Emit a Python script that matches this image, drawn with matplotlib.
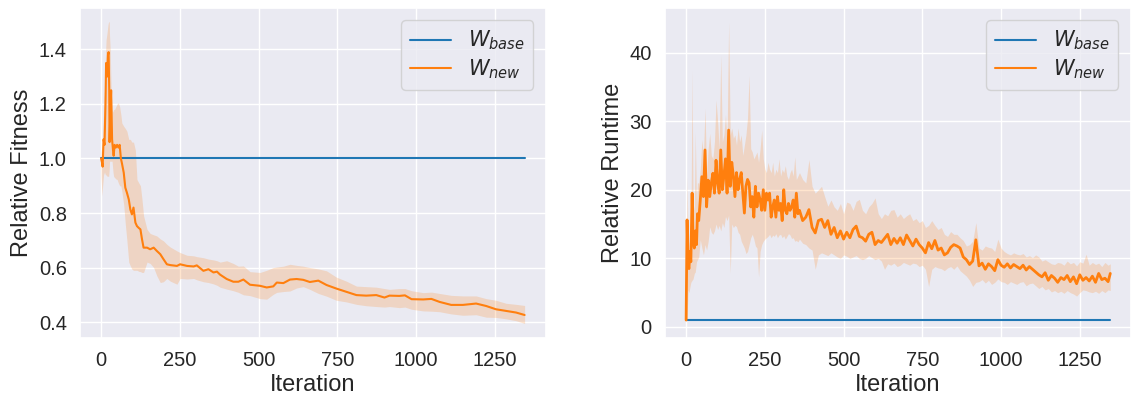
import numpy as np
import matplotlib
matplotlib.use("Agg")
import matplotlib.pyplot as plt
import seaborn as sns

# iteration grid + values (left: relative fitness)
fit_iter = [0, 3, 5, 8, 11, 14, 16, 19, 22, 24, 26, 27, 29, 32, 35, 38, 40, 43, 47, 51,
            55, 59, 63, 66, 72, 77, 82, 88, 93, 98, 103, 109, 114, 120, 125, 130, 135,
            146, 156, 167, 177, 188, 198, 209, 220, 241, 251, 273, 294, 304, 325, 341,
            357, 368, 378, 399, 420, 436, 452, 473, 505, 526, 547, 558, 579, 600, 621,
            642, 663, 690, 716, 747, 779, 811, 842, 874, 900, 916, 947, 965, 986, 1023,
            1049, 1075, 1112, 1149, 1191, 1223, 1254, 1286, 1318, 1345]
fit_mean = [1.0, 0.985, 0.97, 1.07, 1.05, 1.2, 1.35, 1.30, 1.38, 1.39, 1.25, 1.06, 1.15,
            1.25, 1.07, 1.03, 1.01, 1.05, 1.04, 1.05, 1.04, 1.05, 1.0, 0.984, 0.948, 0.893,
            0.875, 0.85, 0.813, 0.795, 0.82, 0.765, 0.752, 0.745, 0.74, 0.704, 0.673,
            0.673, 0.667, 0.673, 0.661, 0.649, 0.631, 0.612, 0.609, 0.606, 0.612, 0.606,
            0.604, 0.608, 0.588, 0.594, 0.582, 0.585, 0.574, 0.558, 0.548, 0.548, 0.556,
            0.537, 0.533, 0.527, 0.531, 0.545, 0.543, 0.556, 0.558, 0.555, 0.547, 0.552,
            0.536, 0.523, 0.511, 0.499, 0.497, 0.499, 0.490, 0.497, 0.496, 0.498, 0.484,
            0.483, 0.485, 0.474, 0.463, 0.463, 0.468, 0.459, 0.447, 0.441, 0.435, 0.426]
fit_high = [1.02, 1.05, 1.08, 1.167, 1.25, 1.38, 1.435, 1.46, 1.49, 1.502, 1.50, 1.45,
            1.40, 1.25, 1.18, 1.17, 1.18, 1.18, 1.19, 1.20, 1.204, 1.19, 1.16, 1.13,
            1.118, 1.11, 1.10, 1.07, 1.07, 1.06, 1.06, 1.03, 0.923, 0.91, 0.90, 0.85, 0.79,
            0.74, 0.725, 0.72, 0.716, 0.705, 0.698, 0.685, 0.675, 0.661, 0.655, 0.645,
            0.643, 0.64, 0.636, 0.631, 0.628, 0.625, 0.62, 0.625, 0.615, 0.605, 0.606,
            0.585, 0.582, 0.59, 0.60, 0.602, 0.605, 0.612, 0.608, 0.605, 0.600, 0.595,
            0.588, 0.565, 0.55, 0.532, 0.53, 0.528, 0.523, 0.52, 0.523, 0.523, 0.515,
            0.508, 0.51, 0.505, 0.498, 0.496, 0.496, 0.486, 0.48, 0.469, 0.465, 0.461]
fit_low = [0.935, 0.862, 0.90, 0.94, 0.95, 0.94, 0.94, 0.935, 0.935, 0.934, 0.96, 0.99,
           0.99, 0.99, 0.99, 0.95, 0.934, 0.93, 0.925, 0.923, 0.91, 0.90, 0.899, 0.88,
           0.83, 0.76, 0.70, 0.62, 0.606, 0.594, 0.59, 0.59, 0.59, 0.586, 0.585, 0.582,
           0.582, 0.62, 0.615, 0.60, 0.57, 0.545, 0.548, 0.56, 0.55, 0.539, 0.56, 0.558,
           0.56, 0.555, 0.548, 0.545, 0.54, 0.535, 0.528, 0.521, 0.515, 0.509, 0.50,
           0.497, 0.486, 0.484, 0.502, 0.509, 0.512, 0.514, 0.525, 0.53, 0.52, 0.505,
           0.495, 0.48, 0.474, 0.465, 0.46, 0.457, 0.455, 0.457, 0.453, 0.455, 0.447,
           0.441, 0.44, 0.438, 0.43, 0.425, 0.427, 0.418, 0.417, 0.412, 0.405, 0.395]

# right: relative runtime
rt_iter = [0, 3, 6, 9, 12, 15, 19, 22, 26, 29, 33, 36, 40, 45, 50, 55, 60, 65, 70, 75,
           80, 85, 90, 95, 100, 105, 110, 115, 120, 125, 130, 135, 140, 145, 150, 155,
           160, 165, 170, 175, 180, 185, 190, 195, 200, 205, 210, 215, 220, 225, 230,
           235, 240, 245, 250, 255, 260, 265, 270, 275, 280, 285, 290, 295, 300, 305,
           310, 315, 320, 325, 330, 335, 340, 345, 350, 355, 360, 370, 380, 390, 400,
           410, 420, 430, 440, 450, 460, 470, 480, 490, 500, 510, 520, 530, 540, 550,
           560, 570, 580, 590, 600, 610, 620, 630, 640, 650, 660, 670, 680, 690, 700,
           710, 720, 730, 740, 750, 760, 770, 780, 790, 800, 810, 820, 830, 840, 850,
           860, 870, 880, 890, 900, 910, 920, 930, 940, 950, 960, 970, 980, 990, 1000,
           1010, 1020, 1030, 1040, 1050, 1060, 1070, 1080, 1090, 1100, 1110, 1120, 1130,
           1140, 1150, 1160, 1170, 1180, 1190, 1200, 1210, 1220, 1230, 1240, 1250, 1260,
           1270, 1280, 1290, 1300, 1310, 1320, 1330, 1340, 1347]
rt_mean = [1.0, 15.6, 9.0, 8.5, 11.0, 9.5, 19.5, 12.5, 11.5, 14.0, 12.0, 16.5, 15.5,
           18.5, 21.9, 19.0, 25.8, 17.5, 21.4, 19.0, 21.0, 22.4, 19.5, 24.3, 21.0, 19.5,
           25.8, 20.0, 22.0, 24.5, 19.5, 28.7, 20.5, 24.0, 22.0, 19.0, 22.5, 20.0, 21.5,
           22.5, 19.5, 16.6, 20.5, 21.5, 21.0, 17.5, 19.0, 16.0, 20.5, 17.5, 19.5, 18.5,
           17.0, 20.0, 17.0, 19.5, 18.5, 19.5, 16.0, 17.5, 18.5, 16.0, 19.0, 17.0, 18.0,
           15.5, 20.0, 17.0, 16.5, 18.0, 17.0, 17.5, 18.5, 16.0, 19.5, 16.5, 17.0, 15.5,
           16.0, 17.1, 14.5, 13.7, 15.5, 15.7, 14.5, 15.5, 13.5, 14.5, 13.0, 14.0, 12.8,
           13.8, 13.0, 14.2, 14.7, 13.2, 13.0, 12.5, 13.5, 13.8, 12.0, 12.6, 12.3, 12.9,
           13.5, 12.0, 12.9, 12.2, 13.0, 12.0, 13.4, 12.6, 11.8, 12.8, 12.0, 11.5, 10.8,
           12.3, 11.4, 12.6, 11.2, 11.5, 10.5, 10.8, 11.6, 12.0, 11.8, 11.5, 10.2, 9.8,
           9.1, 9.6, 12.7, 8.9, 9.3, 8.4, 9.2, 8.8, 8.2, 9.8, 9.0, 8.7, 9.2, 8.6, 9.1,
           8.8, 8.5, 9.0, 8.3, 8.8, 8.4, 8.0, 7.6, 7.3, 7.9, 6.8, 7.5, 7.1, 6.5, 7.2,
           6.9, 7.5, 6.6, 7.3, 6.3, 7.6, 6.8, 7.2, 6.7, 7.4, 6.5, 7.8, 6.9, 7.1, 6.6, 7.8]
rt_high = [1.2, 21.9, 13.0, 12.0, 15.0, 13.0, 37.5, 18.0, 17.0, 28.5, 18.0, 21.0, 21.0,
           23.0, 27.3, 25.0, 31.9, 22.0, 26.0, 28.2, 25.0, 24.5, 27.0, 33.1, 30.0, 26.0,
           39.7, 27.0, 28.0, 31.0, 27.0, 44.5, 28.0, 29.0, 27.5, 28.0, 26.5, 29.0, 27.0,
           28.0, 25.0, 26.5, 28.0, 30.5, 36.7, 26.0, 25.5, 24.5, 25.0, 25.5, 24.0, 26.0,
           28.7, 24.5, 23.0, 22.5, 24.0, 23.0, 22.5, 24.0, 22.0, 23.0, 22.5, 24.5, 22.0,
           23.0, 22.5, 23.5, 22.0, 21.5, 22.5, 23.0, 22.0, 24.8, 21.5, 22.0, 22.5, 21.5,
           21.0, 24.4, 20.5, 19.5, 20.0, 20.5, 19.0, 17.6, 18.5, 17.5, 17.0, 18.0, 16.5,
           18.2, 18.0, 17.0, 18.3, 18.6, 17.0, 16.5, 17.5, 18.0, 18.8, 16.5, 15.8, 16.5,
           16.2, 17.0, 17.1, 16.0, 16.5, 15.8, 16.2, 16.5, 15.5, 15.8, 15.2, 15.5, 14.5,
           14.8, 15.5, 14.8, 14.2, 14.5, 13.5, 13.2, 13.9, 13.5, 13.5, 13.0, 12.6, 11.8,
           12.0, 12.5, 15.2, 11.5, 11.2, 11.8, 11.6, 11.5, 11.0, 12.8, 11.5, 11.0, 10.7,
           10.5, 10.8, 10.6, 10.5, 10.7, 10.2, 10.4, 10.1, 10.5, 10.2, 9.6, 9.8, 9.5,
           9.2, 9.1, 9.4, 9.3, 9.0, 9.6, 9.2, 9.4, 8.9, 9.5, 9.3, 10.6, 9.0, 9.4, 9.1,
           9.3, 8.8, 9.4, 9.0, 9.2]
rt_low = [0.9, 1.0, 5.4, 5.0, 5.8, 6.5, 6.8, 7.0, 7.8, 8.0, 9.5, 9.8, 10.2, 12.7, 11.5,
          10.5, 12.0, 11.2, 12.5, 14.6, 13.8, 13.5, 14.0, 15.0, 14.2, 14.8, 14.0, 15.2,
          14.5, 16.1, 15.5, 16.3, 7.8, 15.0, 14.5, 14.8, 14.6, 13.8, 13.5, 12.5, 12.0,
          11.5, 10.7, 11.0, 12.0, 13.0, 13.5, 12.8, 11.8, 11.5, 7.3, 11.0, 12.0, 12.5,
          12.8, 13.0, 13.2, 13.5, 13.0, 13.4, 13.2, 13.6, 13.0, 13.4, 13.5, 13.0, 13.3,
          12.8, 13.2, 13.6, 13.4, 12.9, 13.0, 12.5, 12.6, 12.4, 12.8, 12.2, 12.0, 11.5,
          11.2, 8.4, 10.5, 10.8, 10.6, 10.4, 10.8, 10.5, 10.2, 10.0, 10.5, 10.3, 10.0,
          10.2, 10.4, 10.0, 9.8, 10.0, 10.4, 10.1, 9.8, 10.0, 9.6, 8.4, 9.2, 9.0, 9.3,
          8.8, 9.0, 9.4, 9.2, 9.0, 9.3, 9.2, 8.8, 9.0, 8.4, 5.9, 8.4, 8.8, 8.6, 8.5,
          8.2, 8.6, 8.8, 8.4, 8.9, 8.2, 7.8, 7.4, 6.8, 5.9, 6.5, 6.6, 6.9, 6.4, 6.8,
          6.2, 6.5, 7.0, 6.6, 6.5, 6.2, 6.6, 6.4, 6.2, 6.5, 6.6, 6.0, 6.3, 6.4, 6.0,
          5.6, 5.9, 5.4, 5.6, 5.1, 5.3, 5.0, 5.2, 4.9, 5.3, 5.0, 4.8, 4.5, 5.0, 5.4,
          5.3, 5.1, 5.0, 5.2, 4.9, 5.3, 5.0, 5.4, 5.3]

base_value = 1.0
x_ticks = [0, 250, 500, 750, 1000, 1250]

sns.set_theme(style="darkgrid")
plt.rcParams["font.family"] = ["Liberation Sans", "DejaVu Sans"]

fig = plt.figure(figsize=(11.31, 3.98), dpi=100)
ax1 = fig.add_axes([0.0707, 0.151, 0.4118, 0.829])
ax2 = fig.add_axes([0.588, 0.151, 0.4118, 0.829])

blue = "#1f77b4"
orange = "#ff7f0e"


def draw(ax, it, mean, low, high, ylabel, yticks, lw_new):
    it = np.array(it)
    ax.plot([it[0], it[-1]], [base_value, base_value], color=blue, lw=1.5,
            label=r"$W_{base}$")
    ax.fill_between(it, low, high, color=orange, alpha=0.2, lw=0)
    ax.plot(it, mean, color=orange, lw=lw_new, label=r"$W_{new}$")
    ax.set_xlabel("Iteration", fontsize=17, labelpad=3)
    ax.set_ylabel(ylabel, fontsize=17)
    ax.set_xticks(x_ticks)
    ax.set_yticks(yticks)
    ax.tick_params(labelsize=14.5)
    leg = ax.legend(loc="upper right", fontsize=15, labelspacing=0.25,
                    borderaxespad=0.6)
    for h in leg.get_lines():
        h.set_linewidth(1.5)


draw(ax1, fit_iter, fit_mean, fit_low, fit_high, "Relative Fitness",
     [0.4, 0.6, 0.8, 1.0, 1.2, 1.4], 1.5)
ax1.set_xlim(-67, 1412)
ax1.set_ylim(0.342, 1.552)

draw(ax2, rt_iter, rt_mean, rt_low, rt_high, "Relative Runtime", [0, 10, 20, 30, 40], 2.0)
ax2.set_xlim(-67, 1412)
ax2.set_ylim(-1.6, 46.5)

fig.savefig("out.png", dpi=100)
